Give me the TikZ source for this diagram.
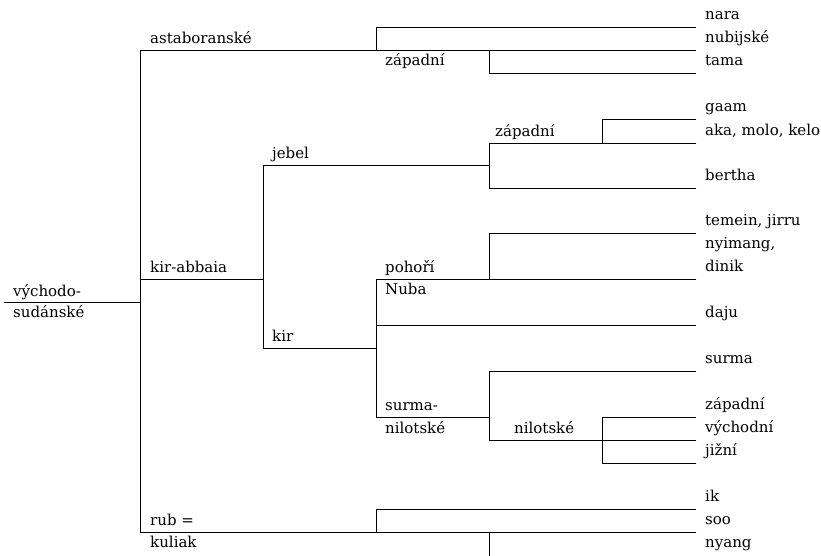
\documentclass[tikz,border=0pt]{standalone}
\usepackage{fontspec}
\setmainfont{DejaVu Serif}
\begin{document}
\begin{tikzpicture}[x=1pt,y=-1pt,
  br/.style={draw=black,line width=0.9pt,line cap=rect},
  lbl/.style={anchor=base west,inner sep=0pt,font=\fontsize{15}{17}\selectfont}]
\useasboundingbox (0,0) rectangle (821,555);
\clip (0,0) rectangle (821,555);
% coordinates
\coordinate (root) at (4,302);
\coordinate (r) at (140,302);
\coordinate (rt) at (140,50);
\coordinate (rb) at (140,532);
\coordinate (a1) at (376,50);
\coordinate (a1t) at (376,27);
\coordinate (nara) at (696,27);
\coordinate (a2) at (489,50);
\coordinate (nub) at (696,50);
\coordinate (a2b) at (489,73);
\coordinate (tama) at (696,73);
\coordinate (k) at (140,279);
\coordinate (k1) at (263,279);
\coordinate (k1t) at (263,165);
\coordinate (k1b) at (263,348);
\coordinate (j) at (489,165);
\coordinate (jt) at (489,143);
\coordinate (jb) at (489,188);
\coordinate (aka) at (696,143);
\coordinate (bertha) at (696,188);
\coordinate (z) at (602,143);
\coordinate (zt) at (602,119);
\coordinate (gaam) at (696,119);
\coordinate (kir) at (376,348);
\coordinate (kirt) at (376,279);
\coordinate (kirb) at (376,417);
\coordinate (p) at (489,279);
\coordinate (pt) at (489,233);
\coordinate (temein) at (696,233);
\coordinate (nyimang) at (696,279);
\coordinate (daju0) at (376,325);
\coordinate (daju) at (696,325);
\coordinate (s) at (489,417);
\coordinate (st) at (489,371);
\coordinate (sb) at (489,440);
\coordinate (surma) at (696,371);
\coordinate (n) at (602,440);
\coordinate (nt) at (602,417);
\coordinate (nb) at (602,463);
\coordinate (zap) at (696,417);
\coordinate (vych) at (696,440);
\coordinate (jiz) at (696,463);
\coordinate (rubm) at (376,532);
\coordinate (rubt) at (376,509);
\coordinate (ik) at (696,509);
\coordinate (soo) at (696,532);
\coordinate (ny0) at (489,532);
\coordinate (ny1) at (489,560);
% branches
\draw[br] (root) -- (r);
\draw[br] (rt) -- (rb);
\draw[br] (rt) -- (nub);
\draw[br] (a1t) -- (a1);
\draw[br] (a1t) -- (nara);
\draw[br] (a2) -- (a2b) -- (tama);
\draw[br] (k) -- (k1);
\draw[br] (k1t) -- (k1b);
\draw[br] (k1t) -- (j);
\draw[br] (jt) -- (jb);
\draw[br] (jt) -- (aka);
\draw[br] (jb) -- (bertha);
\draw[br] (zt) -- (z);
\draw[br] (zt) -- (gaam);
\draw[br] (k1b) -- (kir);
\draw[br] (kirt) -- (kirb);
\draw[br] (kirt) -- (nyimang);
\draw[br] (pt) -- (p);
\draw[br] (pt) -- (temein);
\draw[br] (daju0) -- (daju);
\draw[br] (kirb) -- (s);
\draw[br] (st) -- (sb);
\draw[br] (st) -- (surma);
\draw[br] (sb) -- (n);
\draw[br] (nt) -- (nb);
\draw[br] (nt) -- (zap);
\draw[br] (n) -- (vych);
\draw[br] (nb) -- (jiz);
\draw[br] (rb) -- (soo);
\draw[br] (rubt) -- (rubm);
\draw[br] (rubt) -- (ik);
\draw[br] (ny0) -- (ny1);
% inner labels
\node[lbl] (l1) at (13,296) {východo-};
\node[lbl] (l2) at (13,317) {sudánské};
\node[lbl] (l3) at (150,43) {astaboranské};
\node[lbl] (l4) at (385,65) {západní};
\node[lbl] (l5) at (272,158) {jebel};
\node[lbl] (l6) at (495,136) {západní};
\node[lbl] (l7) at (150,272) {kir-abbaia};
\node[lbl] (l8) at (385,272) {pohoří};
\node[lbl] (l9) at (385,294) {Nuba};
\node[lbl] (l10) at (272,341) {kir};
\node[lbl] (l11) at (385,410) {surma-};
\node[lbl] (l12) at (385,433) {nilotské};
\node[lbl] (l13) at (514,433) {nilotské};
\node[lbl] (l14) at (150,525) {rub =};
\node[lbl] (l15) at (150,547) {kuliak};
% leaves
\node[lbl] (f1) at (705,19) {nara};
\node[lbl] (f2) at (705,42) {nubijské};
\node[lbl] (f3) at (705,65) {tama};
\node[lbl] (f4) at (705,111) {gaam};
\node[lbl] (f5) at (705,135) {aka, molo, kelo};
\node[lbl] (f6) at (705,180) {bertha};
\node[lbl] (f7) at (705,225) {temein, jirru};
\node[lbl] (f8) at (705,248) {nyimang,};
\node[lbl] (f9) at (705,271) {dinik};
\node[lbl] (f10) at (705,317) {daju};
\node[lbl] (f11) at (705,363) {surma};
\node[lbl] (f12) at (705,409) {západní};
\node[lbl] (f13) at (705,432) {východní};
\node[lbl] (f14) at (705,455) {jižní};
\node[lbl] (f15) at (705,501) {ik};
\node[lbl] (f16) at (705,524) {soo};
\node[lbl] (f17) at (705,547) {nyang};
\end{tikzpicture}
\end{document}
